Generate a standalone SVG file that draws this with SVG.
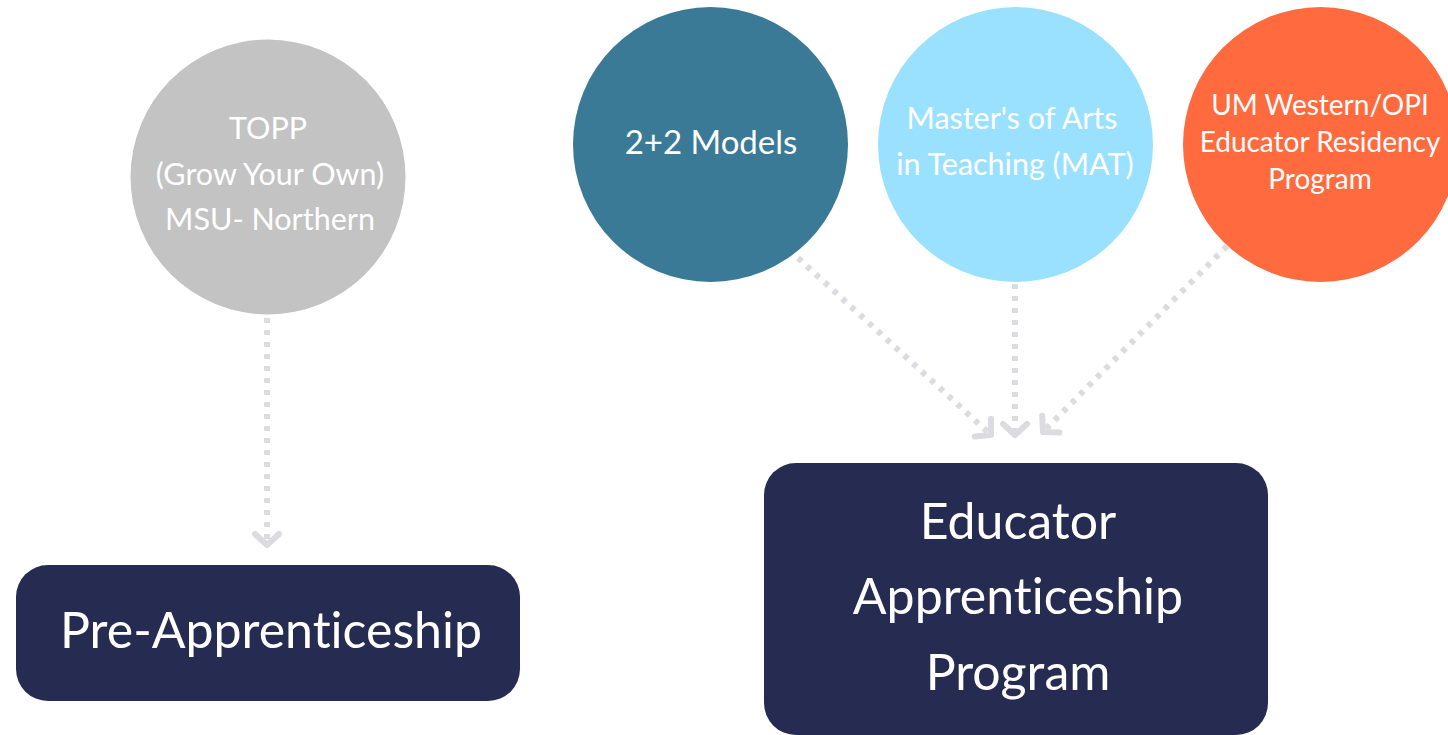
<svg xmlns="http://www.w3.org/2000/svg" width="1448" height="735" viewBox="0 0 1448 735">
  <defs>
    <style>
      .conn { fill: none; stroke: #dcdce0; stroke-width: 6; stroke-dasharray: 5 7; }
      .ctext { font-family: Lato, "Open Sans", sans-serif; fill: #ffffff; text-anchor: middle; font-variant-ligatures: none; }
      .btext { font-family: Lato, "Open Sans", sans-serif; fill: #ffffff; text-anchor: middle; font-size: 50px; font-variant-ligatures: none; }
      .box { fill: #262c51; }
    </style>
    <marker id="chev" markerUnits="userSpaceOnUse" viewBox="-20 -20 24 40" refX="0" refY="0" markerWidth="24" markerHeight="40" orient="auto" overflow="visible">
      <path d="M-11,-12 L0,0 L-11,12" fill="none" stroke="#dcdce0" stroke-width="6" stroke-linecap="round" stroke-linejoin="round"/>
    </marker>
  </defs>
  <rect width="1448" height="735" fill="#ffffff"/>

  <g id="connectors">
    <path class="conn" d="M267,318 L267,545" marker-end="url(#chev)"/>
    <path class="conn" d="M798,258 L991,435" marker-end="url(#chev)"/>
    <path class="conn" d="M1015,284 L1015,435" marker-end="url(#chev)"/>
    <path class="conn" d="M1227,246 L1043,432" marker-end="url(#chev)"/>
  </g>

  <g id="node-topp">
    <circle cx="268" cy="177" r="137.5" fill="#c3c3c3"/>
    <text class="ctext" font-size="30.5" fill="#f4f4f4" x="268" y="139">TOPP</text>
    <text class="ctext" font-size="30.5" x="270" y="185">(Grow Your Own)</text>
    <text class="ctext" font-size="30.5" x="270" y="230">MSU- Northern</text>
  </g>

  <g id="node-22">
    <circle cx="710.5" cy="144.5" r="137.5" fill="#3a7a96"/>
    <text class="ctext" font-size="33" x="711" y="154">2+2 Models</text>
  </g>

  <g id="node-mat">
    <circle cx="1015.5" cy="144.5" r="137.5" fill="#9ae1ff"/>
    <text class="ctext" font-size="30.5" x="1012" y="129">Master's of Arts</text>
    <text class="ctext" font-size="30.5" x="1015" y="175">in Teaching (MAT)</text>
  </g>

  <g id="node-um">
    <circle cx="1320.5" cy="144.5" r="137.5" fill="#ff6b3f"/>
    <text class="ctext" font-size="28" x="1320" y="115">UM Western/OPI</text>
    <text class="ctext" font-size="28" x="1320" y="152">Educator Residency</text>
    <text class="ctext" font-size="28" x="1320" y="189">Program</text>
  </g>

  <g id="node-pre">
    <rect class="box" x="16" y="565" width="504" height="136" rx="32"/>
    <text class="btext" x="271" y="648">Pre-Apprenticeship</text>
  </g>

  <g id="node-eap">
    <rect class="box" x="764" y="463" width="504" height="272" rx="32"/>
    <text class="btext" x="1018" y="539">Educator</text>
    <text class="btext" x="1018" y="614">Apprenticeship</text>
    <text class="btext" x="1018" y="690">Program</text>
  </g>
</svg>
